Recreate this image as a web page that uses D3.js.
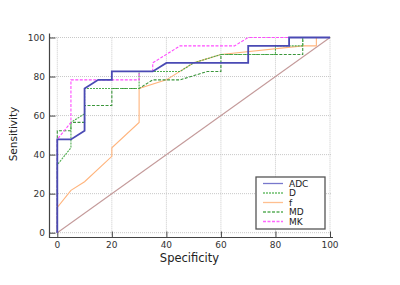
<!DOCTYPE html>
<html lang="en">
<head>
    <meta charset="UTF-8">
    <title>ROC curves</title>
    <script src="https://cdn.jsdelivr.net/npm/d3@7"></script>
    <style>
        body { margin: 0; background: #fff; }
        text { font-family: "DejaVu Sans", sans-serif; fill: #333; }
    </style>
</head>
<body>
<div id="chart"></div>
<script>
    // x = 100 - specificity, y = sensitivity (step ROC curves)
    var adcX = [0, 0, 5, 10, 10, 15, 20, 20, 35, 40, 70, 70, 85, 85, 100];
    var adcY = [0, 47.8, 47.8, 52.2, 73.9, 78.3, 78.3, 82.6, 82.6, 87, 87, 95.7, 95.7, 100, 100];

    var dX = [0, 0, 5, 5, 10, 10, 30, 30, 45, 50, 60, 80, 80, 90, 90, 100];
    var dY = [0, 34.8, 43.5, 56.5, 60.9, 73.9, 73.9, 82.6, 82.6, 87, 91.3, 91.3, 95.7, 95.7, 100, 100];

    var fX = [0, 0, 5, 10, 20, 20, 30, 30, 40, 50, 60, 90, 95, 95, 100];
    var fY = [0, 13.0, 21.7, 26.1, 39.1, 43.5, 56.5, 73.9, 78.3, 87, 91.3, 95.7, 95.7, 100, 100];

    var mdX = [0, 0, 5, 5, 10, 10, 20, 20, 30, 35, 45, 55, 60, 60, 90, 90, 100];
    var mdY = [0, 52.2, 52.2, 56.5, 56.5, 65.2, 65.2, 73.9, 73.9, 78.3, 78.3, 82.6, 82.6, 91.3, 91.3, 100, 100];

    var mkX = [0, 0, 5, 5, 30, 30, 35, 35, 45, 65, 70, 100];
    var mkY = [0, 47.8, 56.5, 78.3, 78.3, 82.6, 82.6, 87, 95.7, 95.7, 100, 100];

    var seriesNames = ["ADC", "D", "f", "MD", "MK"];
    var ticks = [0, 20, 40, 60, 80, 100];

    var series = [
        {name: "ADC", xs: adcX, ys: adcY, color: "#4a4ab4", legendColor: "#7878cc", width: 1.8, dash: null},
        {name: "D", xs: dX, ys: dY, color: "#4fae4f", legendColor: "#6cbf6c", width: 1.1, dash: "2,1"},
        {name: "f", xs: fX, ys: fY, color: "#ffb47c", legendColor: "#ffbf90", width: 1.1, dash: null},
        {name: "MD", xs: mdX, ys: mdY, color: "#3b963b", legendColor: "#5aaf5a", width: 1.1, dash: "3,1.5"},
        {name: "MK", xs: mkX, ys: mkY, color: "#ff4cff", legendColor: "#ff66ff", width: 1.1, dash: "3,1.5"}
    ];

    var width = 400, height = 285;

    var x = d3.scaleLinear().domain([0, 100]).range([57.3, 330]);
    var y = d3.scaleLinear().domain([0, 100]).range([232.7, 37.5]);

    var svg = d3.select("#chart")
            .append("svg")
            .attr("width", width)
            .attr("height", height);

    // dotted grid
    var grid = svg.append("g");
    grid.selectAll("line.gx")
            .data(ticks)
            .enter()
            .append("line")
            .attr("x1", function (d) { return x(d); })
            .attr("x2", function (d) { return x(d); })
            .attr("y1", y(0) + 2)
            .attr("y2", y(100) - 1)
            .attr("stroke", "#c8c8c8")
            .attr("stroke-dasharray", "1,1");
    grid.selectAll("line.gy")
            .data(ticks)
            .enter()
            .append("line")
            .attr("y1", function (d) { return y(d); })
            .attr("y2", function (d) { return y(d); })
            .attr("x1", 50)
            .attr("x2", x(100) + 2)
            .attr("stroke", "#c8c8c8")
            .attr("stroke-dasharray", "1,1");

    // axes, offset from the plot area, ticks pointing inward
    var axisLeft = d3.axisRight(y).tickValues(ticks).tickSize(6).tickFormat("");
    var axisLeftMinor = d3.axisRight(y).tickValues(d3.range(0, 101, 5)).tickSize(4).tickFormat("");
    var axisBottom = d3.axisTop(x).tickValues(ticks).tickSize(6).tickFormat("");
    var axisBottomMinor = d3.axisTop(x).tickValues(d3.range(0, 101, 5)).tickSize(4).tickFormat("");

    var gl = svg.append("g").attr("transform", "translate(49.5,0)");
    gl.call(axisLeftMinor);
    gl.call(axisLeft);
    gl.select(".domain").remove();
    gl.selectAll(".domain").remove();

    var gb = svg.append("g").attr("transform", "translate(0,237.5)");
    gb.call(axisBottomMinor);
    gb.call(axisBottom);
    gb.selectAll(".domain").remove();

    svg.selectAll(".tick line").attr("stroke", "#444");

    svg.append("line")
            .attr("x1", 49.5).attr("x2", 49.5)
            .attr("y1", y(100) - 4).attr("y2", 238)
            .attr("stroke", "#444").attr("stroke-width", 1.2);
    svg.append("line")
            .attr("x1", 49).attr("x2", x(100) + 3)
            .attr("y1", 237.5).attr("y2", 237.5)
            .attr("stroke", "#444").attr("stroke-width", 1.2);

    // tick labels
    svg.append("g").selectAll("text")
            .data(ticks)
            .enter()
            .append("text")
            .attr("x", 45)
            .attr("y", function (d) { return y(d); })
            .attr("dy", "0.35em")
            .attr("text-anchor", "end")
            .style("font-size", "9px")
            .text(function (d) { return d; });
    svg.append("g").selectAll("text")
            .data(ticks)
            .enter()
            .append("text")
            .attr("x", function (d) { return x(d); })
            .attr("y", 248)
            .attr("text-anchor", "middle")
            .style("font-size", "9px")
            .text(function (d) { return d; });

    svg.append("text")
            .attr("x", 189.5)
            .attr("y", 262)
            .attr("text-anchor", "middle")
            .style("font-size", "11.5px")
            .style("fill", "#222")
            .text("Specificity");
    svg.append("text")
            .attr("transform", "translate(17,134) rotate(-90)")
            .attr("text-anchor", "middle")
            .style("font-size", "10.5px")
            .style("fill", "#222")
            .text("Sensitivity");

    // reference diagonal
    svg.append("line")
            .attr("x1", x(0)).attr("y1", y(0))
            .attr("x2", x(100)).attr("y2", y(100))
            .attr("stroke", "#c49a9a")
            .attr("stroke-width", 1.1);

    var line = d3.line()
            .x(function (d) { return x(d[0]); })
            .y(function (d) { return y(d[1]); });

    // draw order so that blue stays on top of the others
    var order = [2, 3, 1, 4, 0];
    order.forEach(function (k) {
        var s = series[k];
        var pts = s.xs.map(function (v, i) { return [v, s.ys[i]]; });
        svg.append("path")
                .attr("d", line(pts))
                .attr("fill", "none")
                .attr("stroke", s.color)
                .attr("stroke-width", s.width)
                .attr("stroke-dasharray", s.dash);
    });

    // legend
    var legendArea = svg.append("g")
            .attr("transform", "translate(256,177)");
    legendArea.append("rect")
            .attr("width", 69)
            .attr("height", 52)
            .attr("fill", "#fff")
            .attr("stroke", "#555")
            .attr("stroke-width", 1.3);

    var legend = legendArea.selectAll("g")
            .data(series)
            .enter()
            .append("g")
            .attr("transform", function (d, i) {
                return "translate(0," + (6.5 + i * 9.5) + ")";
            });
    legend.append("line")
            .attr("x1", 7).attr("x2", 27)
            .attr("stroke", function (d) { return d.legendColor; })
            .attr("stroke-width", 1.3)
            .attr("stroke-dasharray", function (d) { return d.dash; });
    legend.append("text")
            .attr("x", 33)
            .attr("dy", "0.36em")
            .style("font-size", "9px")
            .style("fill", "#222")
            .text(function (d, i) { return seriesNames[i]; });
</script>
</body>
</html>
